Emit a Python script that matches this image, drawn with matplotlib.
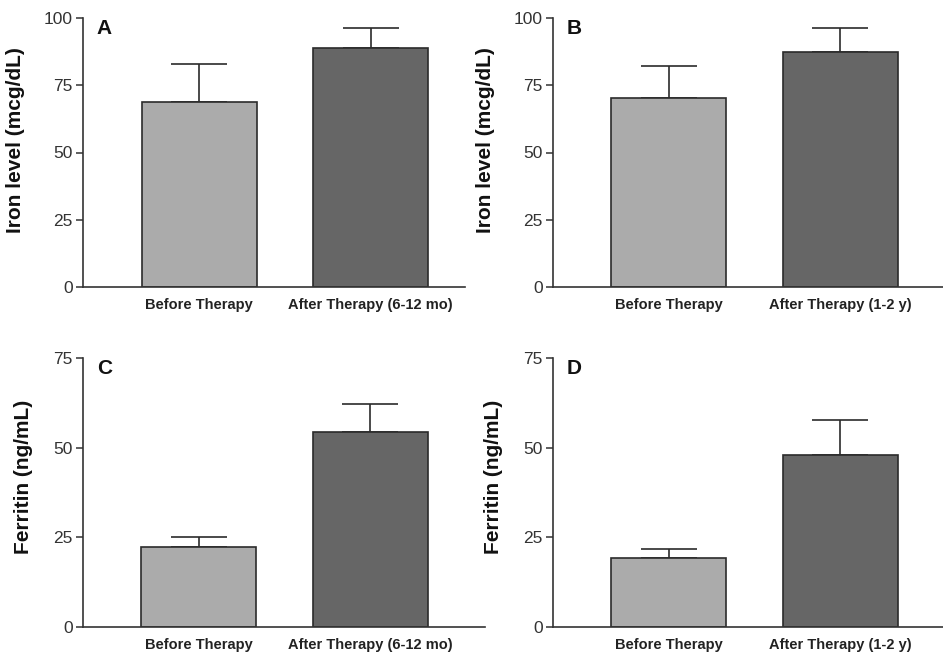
import matplotlib.pyplot as plt
import numpy as np

plt.rcParams['font.family'] = ['Liberation Sans', 'DejaVu Sans']

# data (mean, upper error)
groups_6m = ["Before Therapy", "After Therapy (6-12 mo)"]
groups_1y = ["Before Therapy", "After Therapy (1-2 y)"]

iron_a = [68.9, 88.7]
iron_a_err = [14.0, 7.5]
iron_b = [70.4, 87.4]
iron_b_err = [11.9, 8.9]

ferr_c = [22.2, 54.4]
ferr_c_err = [3.0, 7.9]
ferr_d = [19.1, 48.0]
ferr_d_err = [2.6, 9.8]

BAR_COLORS = ["#ababab", "#666666"]
EDGE = "#2b2b2b"
W, H = 943, 656


def draw_panel(rect_px, xright, vals, errs, labels, ylabel, ymax, yticks):
    x0, y0, x1, y1 = rect_px  # pixel box (left, top, right, bottom)
    ax = fig.add_axes([x0 / W, 1 - y1 / H, (x1 - x0) / W, (y1 - y0) / H])
    x = np.array([1, 2])
    ax.bar(x, vals, width=0.67, color=BAR_COLORS, edgecolor=EDGE, linewidth=1.2, zorder=2)
    ax.errorbar(x, vals, yerr=[np.zeros(2), errs], fmt="none", ecolor=EDGE,
                elinewidth=1.2, capsize=20, capthick=1.2, zorder=1)
    ax.set_xlim(0.322, xright)
    ax.set_ylim(0, ymax)
    ax.set_yticks(yticks)
    ax.set_xticks(x)
    ax.set_xticklabels(labels, fontsize=10.5, fontweight="bold", color="#222222")
    ax.tick_params(axis="x", length=0, pad=8)
    ax.tick_params(axis="y", length=5, width=1.1, color="#333333", pad=2,
                   labelsize=12.5, labelcolor="#333333")
    for s in ["top", "right"]:
        ax.spines[s].set_visible(False)
    for s in ["left", "bottom"]:
        ax.spines[s].set_linewidth(1.2)
        ax.spines[s].set_color("#333333")
    ax.set_ylabel(ylabel, fontsize=15, fontweight="bold", color="#111111")
    return ax


fig = plt.figure(figsize=(9.43, 6.56), dpi=100)

ax_a = draw_panel((82.7, 18, 465, 287), 2.55, iron_a, iron_a_err, groups_6m,
                  "Iron level (mcg/dL)", 100, [0, 25, 50, 75, 100])
ax_b = draw_panel((552.7, 18, 943, 287), 2.60, iron_b, iron_b_err, groups_1y,
                  "Iron level (mcg/dL)", 100, [0, 25, 50, 75, 100])
ax_c = draw_panel((82.7, 358.3, 485, 626.7), 2.67, ferr_c, ferr_c_err, groups_6m,
                  "Ferritin (ng/mL)", 75, [0, 25, 50, 75])
ax_d = draw_panel((552.7, 358.3, 943, 626.7), 2.60, ferr_d, ferr_d_err, groups_1y,
                  "Ferritin (ng/mL)", 75, [0, 25, 50, 75])

# y label positions (pixels from axes left edge, shifted up a little)
ax_a.yaxis.set_label_coords(-57.7 / 382.3, 0.548)
ax_b.yaxis.set_label_coords(-57.7 / 390.3, 0.548)
ax_c.yaxis.set_label_coords(-49.7 / 402.3, 0.56)
ax_d.yaxis.set_label_coords(-49.7 / 390.3, 0.56)

for ax, letter in zip([ax_a, ax_b, ax_c, ax_d], "ABCD"):
    bbox = ax.get_position()
    fig.text(bbox.x0 + 14 / W, bbox.y1 - 1 / H, letter, fontsize=15, fontweight="bold",
             va="top", ha="left", color="#111111")

fig.savefig("out.png", dpi=100)
